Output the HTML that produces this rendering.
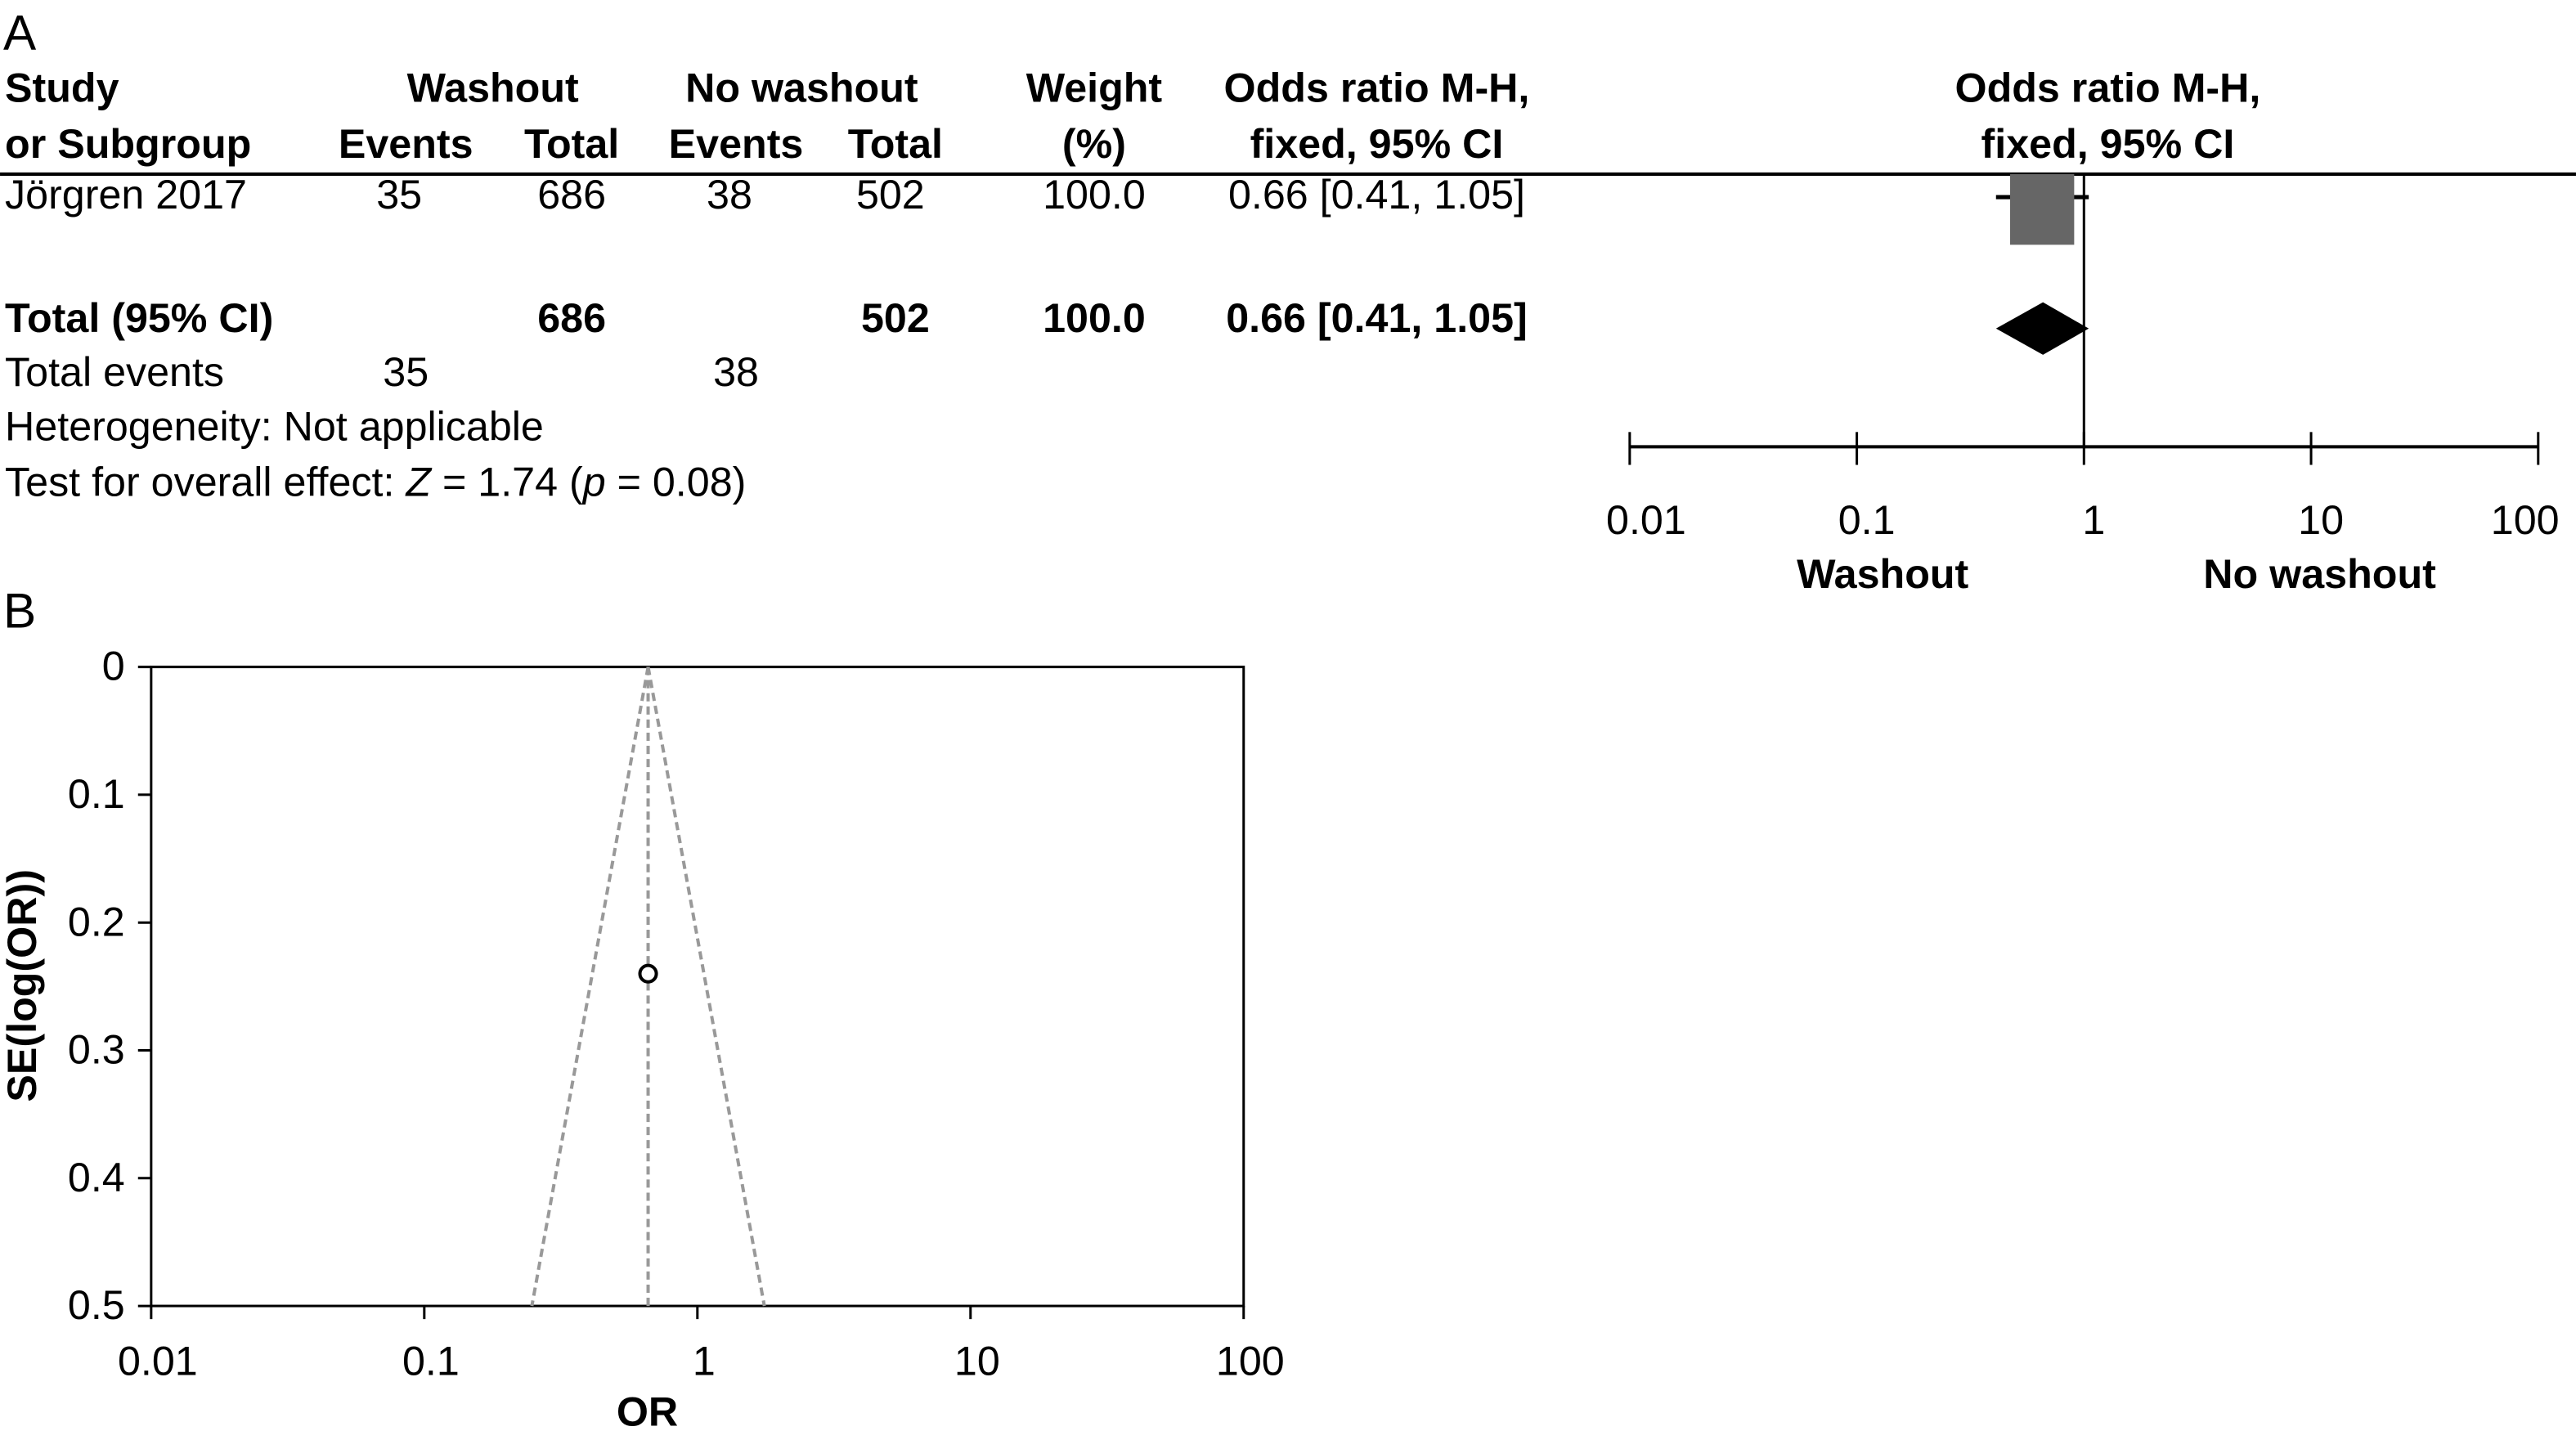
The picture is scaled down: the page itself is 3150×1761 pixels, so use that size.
<!DOCTYPE html>
<html><head><meta charset="utf-8"><style>
html,body{margin:0;padding:0;background:#fff;}
svg{display:block;font-family:"Liberation Sans",sans-serif;}
</style></head><body>
<svg id="fig" width="3150" height="1761" viewBox="0 0 1568 876.6" xmlns="http://www.w3.org/2000/svg">
<g font-size="25" fill="#000">
<text x="2" y="30" font-size="30">A</text>
<g font-weight="bold">
<text x="3" y="62">Study</text>
<text x="3" y="96">or Subgroup</text>
<text x="300" y="62" text-anchor="middle">Washout</text>
<text x="247" y="96" text-anchor="middle">Events</text>
<text x="348" y="96" text-anchor="middle">Total</text>
<text x="488" y="62" text-anchor="middle">No washout</text>
<text x="448" y="96" text-anchor="middle">Events</text>
<text x="545" y="96" text-anchor="middle">Total</text>
<text x="666" y="62" text-anchor="middle">Weight</text>
<text x="666" y="96" text-anchor="middle">(%)</text>
<text x="838" y="62" text-anchor="middle">Odds ratio M-H,</text>
<text x="838" y="96" text-anchor="middle">fixed, 95% CI</text>
<text x="1283" y="62" text-anchor="middle">Odds ratio M-H,</text>
<text x="1283" y="96" text-anchor="middle">fixed, 95% CI</text>
</g>
<line x1="0" y1="106" x2="1568" y2="106" stroke="#000" stroke-width="2"/>
<g>
<text x="3" y="127">Jörgren 2017</text>
<text x="243" y="127" text-anchor="middle">35</text>
<text x="348" y="127" text-anchor="middle">686</text>
<text x="444" y="127" text-anchor="middle">38</text>
<text x="542" y="127" text-anchor="middle">502</text>
<text x="666" y="127" text-anchor="middle">100.0</text>
<text x="838" y="127" text-anchor="middle">0.66 [0.41, 1.05]</text>
</g>
<g font-weight="bold">
<text x="3" y="202">Total (95% CI)</text>
<text x="348" y="202" text-anchor="middle">686</text>
<text x="545" y="202" text-anchor="middle">502</text>
<text x="666" y="202" text-anchor="middle">100.0</text>
<text x="838" y="202" text-anchor="middle">0.66 [0.41, 1.05]</text>
</g>
<text x="3" y="235">Total events</text>
<text x="247" y="235" text-anchor="middle">35</text>
<text x="448" y="235" text-anchor="middle">38</text>
<text x="3" y="268">Heterogeneity: Not applicable</text>
<text x="3" y="302">Test for overall effect: <tspan font-style="italic">Z</tspan> = 1.74 (<tspan font-style="italic">p</tspan> = 0.08)</text>
<g id="forest"></g>
<text x="1146" y="358" text-anchor="middle" font-weight="bold">Washout</text>
<text x="1412" y="358" text-anchor="middle" font-weight="bold">No washout</text>
</g>
<g font-size="25">
<text x="2" y="382" font-size="30">B</text>
<g id="funnel"></g>
<text x="22" y="600" font-weight="bold" text-anchor="middle" transform="rotate(-90 22 600)">SE(log(OR))</text>
<text x="394" y="868" font-weight="bold" text-anchor="middle">OR</text>
</g>
</svg>
<script>
const NS="http://www.w3.org/2000/svg";
const studyOR=[0.66], studyLo=[0.41], studyHi=[1.05];
const totalOR=[0.66], totalLo=[0.41], totalHi=[1.05];
const xTicks=[0.01,0.1,1,10,100];
const xTickLabels=["0.01","0.1","1","10","100"];
const funnelOR=[0.66], funnelSE=[0.24];
const pooledOR=[0.66];
const seTicks=[0,0.1,0.2,0.3,0.4,0.5];
const seTickLabels=["0","0.1","0.2","0.3","0.4","0.5"];
function mk(p,t,a){const e=document.createElementNS(NS,t);for(const k in a)e.setAttribute(k,a[k]);p.appendChild(e);return e;}
const fx=v=>992+(Math.log10(v)+2)*(553/4);
const F=document.getElementById('forest');
let l=mk(F,'line',{x1:fx(1),y1:106,x2:fx(1),y2:272,stroke:'#000','stroke-width':1.5});


l=mk(F,'line',{x1:fx(studyLo[0]),y1:120,x2:fx(studyHi[0]),y2:120,stroke:'#000','stroke-width':2.5});


let r=mk(F,'rect',{x:fx(studyOR[0])-20,y:106,width:39,height:43,fill:'#666'});


let d=mk(F,'polygon',{points:`${fx(totalLo[0])},200 ${fx(totalOR[0])},184 ${fx(totalHi[0])},200 ${fx(totalOR[0])},216`,fill:'#000'});


l=mk(F,'line',{x1:fx(0.01),y1:272,x2:fx(100),y2:272,stroke:'#000','stroke-width':2});


xTicks.forEach((v,i)=>{
 const t=mk(F,'line',{x1:fx(v),y1:263,x2:fx(v),y2:283,stroke:'#000','stroke-width':1.5});
 
 
 const tx=mk(F,'text',{x:fx(v)+(i==0?10:i==4?-8:6),y:325,'text-anchor':'middle'});
 tx.textContent=xTickLabels[i];
 
 
});
const G=document.getElementById('funnel');
const gx=v=>92+(Math.log10(v)+2)*(665/4);
const gy=s=>406+s*(389/0.5);
r=mk(G,'rect',{x:92,y:406,width:665,height:389,fill:'none',stroke:'#000','stroke-width':1.5});


seTicks.forEach((s,i)=>{
 const t=mk(G,'line',{x1:84,y1:gy(s),x2:92,y2:gy(s),stroke:'#000','stroke-width':1.5});
 
 
 const tx=mk(G,'text',{x:76,y:gy(s)+8,'text-anchor':'end'});
 tx.textContent=seTickLabels[i];
 
 
});
xTicks.forEach((v,i)=>{
 const t=mk(G,'line',{x1:gx(v),y1:795,x2:gx(v),y2:803,stroke:'#000','stroke-width':1.5});
 
 
 const tx=mk(G,'text',{x:gx(v)+4,y:837,'text-anchor':'middle'});
 tx.textContent=xTickLabels[i];
 
 
});
const p=pooledOR[0], smax=0.5;
const dash={stroke:'#999','stroke-width':2,'stroke-dasharray':'5,3',fill:'none'};
l=mk(G,'line',Object.assign({x1:gx(p),y1:gy(0),x2:gx(p),y2:gy(smax)},dash));


l=mk(G,'line',Object.assign({x1:gx(p),y1:gy(0),x2:gx(p*Math.exp(-1.96*smax)),y2:gy(smax)},dash));


l=mk(G,'line',Object.assign({x1:gx(p),y1:gy(0),x2:gx(p*Math.exp(1.96*smax)),y2:gy(smax)},dash));


funnelOR.forEach((v,i)=>{
 const c=mk(G,'circle',{cx:gx(v),cy:gy(funnelSE[i]),r:5,fill:'#fff',stroke:'#000','stroke-width':2});
 
 
});
</script>
</body></html>
